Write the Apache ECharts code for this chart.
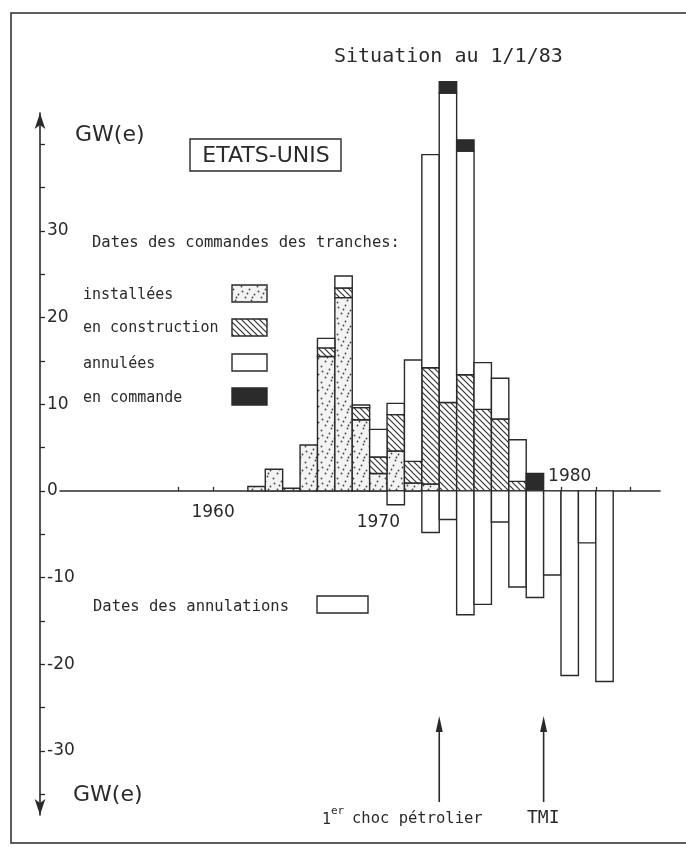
<!DOCTYPE html>
<html>
<head>
<meta charset="utf-8">
<script src="https://cdn.jsdelivr.net/npm/echarts@6/dist/echarts.min.js"></script>
<style>
html, body { margin: 0; padding: 0; background: #fff; }
#main { width: 686px; height: 847px; }
</style>
</head>
<body>
<div id="main"></div>
<script>
// années de commande (tranche d'un an, de l'année au 1er janvier suivant)
var years = [1962, 1963, 1964, 1965, 1966, 1967, 1968, 1969, 1970, 1971, 1972,
             1973, 1974, 1975, 1976, 1977, 1978, 1979, 1980, 1981, 1982];
// GW(e) par année de commande
var installees   = [0.5, 2.5, 0.3, 5.3, 15.5, 22.3, 8.2, 2.0, 4.6, 0.9, 0.8, 0, 0, 0, 0, 0, 0, 0, 0, 0, 0];
var construction = [0, 0, 0, 0, 1.0, 1.1, 1.4, 1.9, 4.2, 2.5, 13.4, 10.2, 13.4, 9.4, 8.3, 1.1, 0, 0, 0, 0, 0];
var annulees     = [0, 0, 0, 0, 1.1, 1.4, 0.3, 3.2, 1.3, 11.7, 24.6, 35.7, 25.8, 5.4, 4.7, 4.8, 0, 0, 0, 0, 0];
var commande     = [0, 0, 0, 0, 0, 0, 0, 0, 0, 0, 0, 1.3, 1.3, 0, 0, 0, 2.0, 0, 0, 0, 0];
// GW(e) annulés par année d'annulation
var annulations  = [0, 0, 0, 0, 0, 0, 0, 0, -1.6, 0, -4.8, -3.3, -14.3, -13.1, -3.6, -11.1, -12.3, -9.7, -21.3, -6.0, -22.0];

var yLabels = [-30, -20, -10, 0, 10, 20, 30];
var yTicks = [-35, -30, -25, -20, -15, -10, -5, 0, 5, 10, 15, 20, 25, 30, 35, 40];
var xTicks = [1958, 1960, 1962, 1964, 1966, 1968, 1970, 1972, 1974, 1976, 1978, 1980, 1982, 1984];

var INK = '#2a2a2a';
var FONT = '"DejaVu Sans", sans-serif';
var MONO = '"DejaVu Sans Mono", monospace';

// motifs de remplissage
function dotsPattern() {
    var c = document.createElement('canvas');
    c.width = 16; c.height = 16;
    var g = c.getContext('2d');
    g.fillStyle = '#f3f3f3';
    g.fillRect(0, 0, 16, 16);
    g.fillStyle = '#444';
    [[2, 3], [9, 1], [14, 6], [5, 9], [11, 12], [1, 14], [7, 5], [12, 9]].forEach(function (p) {
        g.beginPath();
        g.arc(p[0] + 0.5, p[1] + 0.5, 0.9, 0, Math.PI * 2);
        g.fill();
    });
    return { image: c, repeat: 'repeat' };
}
function hatchPattern() {
    var c = document.createElement('canvas');
    c.width = 6; c.height = 6;
    var g = c.getContext('2d');
    g.fillStyle = '#fff';
    g.fillRect(0, 0, 6, 6);
    g.strokeStyle = '#333';
    g.lineWidth = 1.2;
    g.beginPath();
    g.moveTo(-1, -1); g.lineTo(7, 7);
    g.moveTo(-7, -1); g.lineTo(1, 7);
    g.moveTo(5, -1); g.lineTo(13, 7);
    g.stroke();
    return { image: c, repeat: 'repeat' };
}
var DOTS = dotsPattern();
var HATCH = hatchPattern();
var BLACK = '#2b2b2b';

// empilement: installées, en construction, annulées, en commande
var layers = [
    { name: 'installées', values: installees, fill: DOTS },
    { name: 'en construction', values: construction, fill: HATCH },
    { name: 'annulées', values: annulees, fill: '#fff' },
    { name: 'en commande', values: commande, fill: BLACK }
];

var base = years.map(function () { return 0; });
var series = layers.map(function (layer) {
    var data = [];
    years.forEach(function (y, i) {
        var v = layer.values[i];
        if (v > 0) {
            data.push([y, base[i], base[i] + v]);
            base[i] += v;
        }
    });
    return makeSeries(layer.name, data, layer.fill);
});
var negData = [];
years.forEach(function (y, i) {
    if (annulations[i] < 0) negData.push([y, annulations[i], 0]);
});
series.push(makeSeries('Dates des annulations', negData, '#fff'));

function makeSeries(name, data, fill) {
    return {
        type: 'custom',
        name: name,
        data: data,
        encode: { x: 0, y: [1, 2] },
        clip: false,
        renderItem: function (params, api) {
            var p0 = api.coord([api.value(0), api.value(2)]);
            var p1 = api.coord([api.value(0) + 1, api.value(1)]);
            return {
                type: 'rect',
                shape: { x: p0[0], y: p0[1], width: p1[0] - p0[0], height: p1[1] - p0[1] },
                style: { fill: fill, stroke: INK, lineWidth: 1.4 }
            };
        }
    };
}

function txt(text, x, y, size, extra, family) {
    var s = { text: text, x: x, y: y, fill: INK, font: size + 'px ' + (family || FONT), verticalAlign: 'middle' };
    if (extra) for (var k in extra) s[k] = extra[k];
    return { type: 'text', style: s, silent: true };
}
function swatch(x, y, w, h, fill) {
    return { type: 'rect', shape: { x: x, y: y, width: w, height: h },
             style: { fill: fill, stroke: INK, lineWidth: 1.4 }, silent: true };
}

var chart = echarts.init(document.getElementById('main'));
chart.setOption({
    backgroundColor: '#fff',
    animation: false,
    grid: { left: 60, right: 26, top: 113, bottom: 32 },
    xAxis: {
        type: 'value',
        min: 1951.2,
        max: 1985.69,
        axisLine: { show: true, onZero: true, lineStyle: { color: INK, width: 1.5 } },
        axisTick: { show: true, inside: true, length: 4, customValues: xTicks, lineStyle: { color: INK, width: 1.3 } },
        axisLabel: { show: false },
        splitLine: { show: false }
    },
    yAxis: {
        type: 'value',
        min: -37.4,
        max: 43.6,
        offset: 20,
        axisLine: { show: true, onZero: false, symbol: ['arrow', 'arrow'], symbolSize: [8, 16],
                    lineStyle: { color: INK, width: 1.6 } },
        axisTick: { show: true, inside: true, length: 5, customValues: yTicks, lineStyle: { color: INK, width: 1.3 } },
        axisLabel: { show: true, inside: true, margin: 7, customValues: yLabels,
                     color: INK, fontSize: 17, fontFamily: FONT },
        splitLine: { show: false }
    },
    series: series
});

// annotations placées à partir des échelles
function px(x, y) { return chart.convertToPixel({ gridIndex: 0 }, [x, y]); }
var p1960 = px(1960, -2.5), p1970 = px(1969.5, -3.7), p1980 = px(1980.5, 1.6);
var pOil = px(1973, 0), pTmi = px(1979, 0);

function arrow(x) {
    return [
        { type: 'line', shape: { x1: x, y1: 802, x2: x, y2: 728 }, style: { stroke: INK, lineWidth: 1.6 }, silent: true },
        { type: 'polygon', shape: { points: [[x - 3.5, 732], [x + 3.5, 732], [x, 716]] }, style: { fill: INK }, silent: true }
    ];
}

chart.setOption({
    graphic: [
        { type: 'rect', shape: { x: 11, y: 13, width: 700, height: 830 },
          style: { fill: 'none', stroke: INK, lineWidth: 1.5 }, silent: true },
        txt('Situation au 1/1/83', 334, 57, 20, null, MONO),
        txt('GW(e)', 75, 135, 22),
        swatch(190, 139, 151, 32, '#fff'),
        txt('ETATS-UNIS', 266, 156, 22, { align: 'center' }),
        txt('Dates des commandes des tranches:', 92, 243, 15.5, null, MONO),
        txt('installées', 83, 295, 15, null, MONO),
        txt('en construction', 83, 328, 15, null, MONO),
        txt('annulées', 83, 364, 15, null, MONO),
        txt('en commande', 83, 398, 15, null, MONO),
        swatch(232, 285, 35, 17, DOTS),
        swatch(232, 319, 35, 17, HATCH),
        swatch(232, 354, 35, 17, '#fff'),
        swatch(232, 388, 35, 17, BLACK),
        txt('Dates des annulations', 93, 607, 15.5, null, MONO),
        swatch(317, 596, 51, 17, '#fff'),
        txt('GW(e)', 73, 795, 22),
        txt('1960', p1960[0], p1960[1], 17, { align: 'center' }),
        txt('1970', p1970[0], p1970[1], 17, { align: 'center' }),
        txt('1980', p1980[0], p1980[1], 17, { align: 'center' }),
        txt('1', 322, 820, 15, null, MONO),
        txt('er', 331, 811, 11, null, MONO),
        txt('choc pétrolier', 352, 819, 15.5, null, MONO),
        txt('TMI', 527, 818, 18, null, MONO)
    ].concat(arrow(pOil[0]), arrow(pTmi[0]))
});
</script>
</body>
</html>
